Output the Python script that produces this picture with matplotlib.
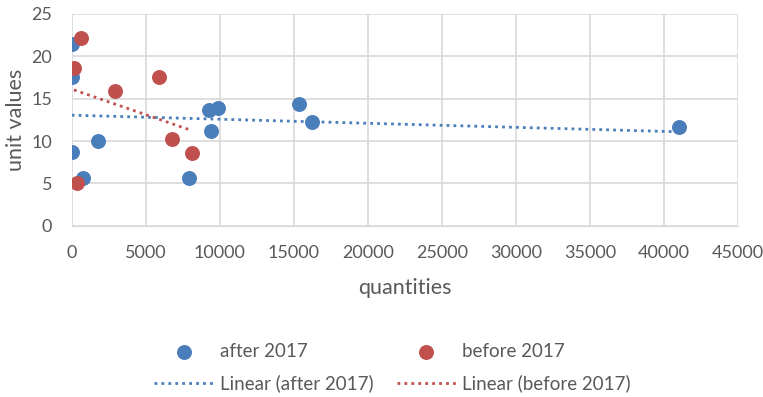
import numpy as np
import matplotlib.pyplot as plt

# data
after_q = [40, 0, 0, 0, 790, 1780, 7900, 9250, 9900, 9380, 15350, 16200, 41000]
after_uv = [21.5, 18.3, 17.5, 8.7, 5.6, 10.0, 5.6, 13.7, 13.9, 11.2, 14.4, 12.3, 11.7]
before_q = [620, 150, 340, 2930, 5870, 6800, 8110]
before_uv = [22.1, 18.65, 5.0, 15.9, 17.5, 10.2, 8.6]

x_ticks = list(range(0, 45001, 5000))
y_ticks = list(range(0, 26, 5))

azul = '#4a7ebb'
rojo = '#c0504d'
gris = '#595959'

plt.rcParams['font.family'] = ['Lato', 'DejaVu Sans']

fig = plt.figure(figsize=(7.63, 3.97), dpi=100)
ax = fig.add_axes([0.094, 0.431, 0.873, 0.534])

ax.scatter(after_q, after_uv, s=95, color=azul, zorder=3, label='after 2017')
ax.scatter(before_q, before_uv, s=95, color=rojo, zorder=3, label='before 2017')

# linear trendlines
for xs, ys, c, nombre in [(after_q, after_uv, azul, 'Linear (after 2017)'),
                          (before_q, before_uv, rojo, 'Linear (before 2017)')]:
    m, b = np.polyfit(xs, ys, 1)
    xl = np.array([min(xs), max(xs)])
    ax.plot(xl, m * xl + b, color=c, linestyle=(0, (1, 1.5)), linewidth=2,
            zorder=2, label=nombre)

ax.set_xlim(0, 45000)
ax.set_ylim(0, 25)
ax.set_xticks(x_ticks)
ax.set_yticks(y_ticks)
ax.grid(True, color='#d9d9d9', linewidth=1.2)
ax.set_axisbelow(True)
for lado in ['top', 'right', 'left']:
    ax.spines[lado].set_visible(False)
ax.spines['bottom'].set_color('#d9d9d9')
ax.tick_params(length=0, labelsize=13, colors=gris)
ax.tick_params(axis='x', pad=14)
ax.tick_params(axis='y', pad=14)

ax.set_xlabel('quantities', fontsize=15.5, color=gris, labelpad=12)
ax.set_ylabel('unit values', fontsize=15.5, color=gris, labelpad=4)

h, l = ax.get_legend_handles_labels()
orden = [0, 2, 1, 3]
fig.legend([h[i] for i in orden], [l[i] for i in orden], ncol=2,
           loc='upper left', bbox_to_anchor=(145 / 763, 1 - 334 / 397),
           frameon=False, borderpad=0, fontsize=13.5, labelcolor=gris,
           columnspacing=1.2, handlelength=3.15, handletextpad=0.37,
           labelspacing=0.75)

fig.savefig('out.png', dpi=100)
